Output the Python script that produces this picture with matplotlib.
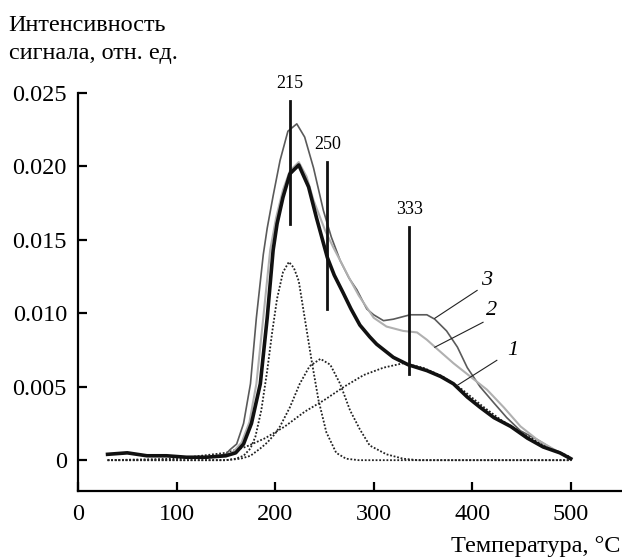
import matplotlib.pyplot as plt

plt.rcParams['font.family'] = ['Liberation Serif', 'DejaVu Serif']

# кривая 1 (чёрная)
t1 = [30, 50, 70, 90, 110, 130, 150, 160, 168, 176, 185, 192, 198, 202, 208, 215, 224, 234, 242, 253,
      260, 269, 277, 286, 296, 303, 320, 335, 354, 368, 381, 395, 408, 422, 439, 456, 472, 489, 500]
s1 = [0.0004, 0.0005, 0.0003, 0.0003, 0.0002, 0.0002, 0.0003, 0.0005, 0.0011, 0.0025, 0.0052, 0.0097,
      0.0143, 0.0161, 0.0179, 0.0195, 0.0201, 0.0186, 0.0165, 0.0138, 0.0126, 0.0114, 0.0103, 0.0092,
      0.0084, 0.0079, 0.0070, 0.0065, 0.0061, 0.0057, 0.0052, 0.0043, 0.0036, 0.0029, 0.0023, 0.0015,
      0.0009, 0.0005, 0.0001]

# кривая 2 (светло-серая)
t2 = [30, 50, 70, 90, 110, 130, 150, 158, 166, 174, 181, 188, 195, 201, 208, 215, 224, 232, 239, 251,
      259, 266, 276, 285, 293, 300, 313, 330, 344, 354, 364, 381, 398, 415, 432, 449, 466, 489, 500]
s2 = [0.0004, 0.0005, 0.0003, 0.0003, 0.0002, 0.0002, 0.0003, 0.0006, 0.0012, 0.0026, 0.0052, 0.0097,
      0.0143, 0.0165, 0.0184, 0.0197, 0.0203, 0.0193, 0.0177, 0.0156, 0.0145, 0.0136, 0.0123, 0.0112,
      0.0104, 0.0097, 0.0091, 0.0088, 0.0087, 0.0082, 0.0076, 0.0066, 0.0057, 0.0048, 0.0036, 0.0023,
      0.0014, 0.0005, 0.0001]

# кривая 3 (тёмно-серая)
t3 = [30, 50, 70, 90, 110, 130, 150, 154, 161, 168, 175, 181, 188, 192, 198, 205, 213, 222, 230, 239,
      249, 257, 266, 275, 283, 293, 300, 310, 320, 337, 354, 362, 374, 385, 395, 408, 422, 435, 449,
      466, 483, 500]
s3 = [0.0004, 0.0005, 0.0003, 0.0003, 0.0002, 0.0002, 0.0004, 0.0007, 0.0011, 0.0025, 0.0052, 0.0097,
      0.0140, 0.0158, 0.0180, 0.0204, 0.0224, 0.0229, 0.0220, 0.0199, 0.0170, 0.0152, 0.0136, 0.0124,
      0.0116, 0.0103, 0.0099, 0.0095, 0.0096, 0.0099, 0.0099, 0.0096, 0.0088, 0.0077, 0.0063, 0.0050,
      0.0039, 0.0029, 0.0020, 0.0014, 0.0007, 0.0001]

# разложение на компоненты (пунктир)
tp1 = [30, 150, 160, 168, 175, 180, 186, 192, 197, 202, 208, 214, 219, 224, 230, 237, 244, 252, 262,
       272, 285, 500]
p1 = [0, 0, 0.0001, 0.0003, 0.0008, 0.0016, 0.0034, 0.0061, 0.0087, 0.0110, 0.0128, 0.0135, 0.0131,
      0.0122, 0.0097, 0.0068, 0.0041, 0.0019, 0.0005, 0.0001, 0, 0]
tp2 = [30, 150, 165, 175, 185, 192, 200, 205, 215, 225, 235, 246, 256, 266, 276, 286, 296, 313, 330,
       345, 500]
p2 = [0, 0, 0.0001, 0.0003, 0.0008, 0.0012, 0.0018, 0.0023, 0.0036, 0.0052, 0.0064, 0.0069, 0.0065,
      0.0052, 0.0034, 0.0021, 0.0010, 0.0004, 0.0001, 0, 0]
tp3 = [30, 100, 150, 170, 190, 210, 230, 250, 270, 290, 310, 330, 350, 370, 390, 410, 430, 450, 470,
       490, 500]
p3 = [0, 0.0001, 0.0005, 0.0009, 0.0015, 0.0023, 0.0033, 0.0041, 0.0050, 0.0058, 0.0063, 0.0066,
      0.0063, 0.0057, 0.0048, 0.0037, 0.0027, 0.0019, 0.0011, 0.0005, 0.0002]

# максимумы
peak_t = [215, 253, 336]
peak_lab = ['215', '250', '333']
peak_lo = [0.0161, 0.0103, 0.00585]
peak_hi = [0.02448, 0.0203, 0.0159]

yticks = [0, 0.005, 0.010, 0.015, 0.020, 0.025]
ylabels = ['0', '0.005', '0.010', '0.015', '0.020', '0.025']
xticks = [0, 100, 200, 300, 400, 500]

fig = plt.figure(figsize=(6.22, 5.59), dpi=100)
ax = fig.add_axes([0.1254, 0.1216, 0.8746, 0.712])

for t, p in [(tp1, p1), (tp2, p2), (tp3, p3)]:
    ax.plot(t, p, color='#222222', linestyle=(0, (1, 1)), linewidth=1.3)

ax.plot(t3, s3, color='#5a5a5a', linewidth=1.2)
ax.plot(t2, s2, color='#b0b0b0', linewidth=1.5)
ax.plot(t1, s1, color='#111111', linewidth=2.6)

for t, lab, lo, hi in zip(peak_t, peak_lab, peak_lo, peak_hi):
    ax.plot([t, t], [lo, hi], color='#111111', linewidth=2)
    ax.text(t, hi + 0.0006, lab, ha='center', va='bottom', fontsize=13)

# подписи кривых
ax.plot([362, 405], [0.00966, 0.01156], color='#222222', linewidth=0.8)
ax.plot([362, 411], [0.00769, 0.00939], color='#222222', linewidth=0.8)
ax.plot([385, 425], [0.0051, 0.0068], color='#222222', linewidth=0.8)
ax.text(415, 0.01224, '3', style='italic', fontsize=16, ha='center', va='center')
ax.text(420, 0.0102, '2', style='italic', fontsize=16, ha='center', va='center')
ax.text(441, 0.00748, '1', style='italic', fontsize=16, ha='center', va='center')

ax.set_xlim(0, 552)
ax.set_ylim(-0.0021, 0.025)
ax.set_xticks(xticks)
ax.set_yticks(yticks)
ax.set_yticklabels(ylabels)
ax.spines['top'].set_visible(False)
ax.spines['right'].set_visible(False)
ax.spines['left'].set_linewidth(1.6)
ax.spines['bottom'].set_linewidth(1.6)
ax.tick_params(direction='in', length=6.5, width=1.6, labelsize=17.5)
ax.tick_params(axis='y', pad=8)
ax.tick_params(axis='x', pad=9)

fig.text(0.014, 0.945, 'Интенсивность', fontsize=17.5, ha='left', va='baseline')
fig.text(0.014, 0.895, 'сигнала, отн. ед.', fontsize=17.5, ha='left', va='baseline')
fig.text(0.997, 0.013, 'Температура, °C', fontsize=17.5, ha='right', va='baseline')

plt.savefig('out.png')
